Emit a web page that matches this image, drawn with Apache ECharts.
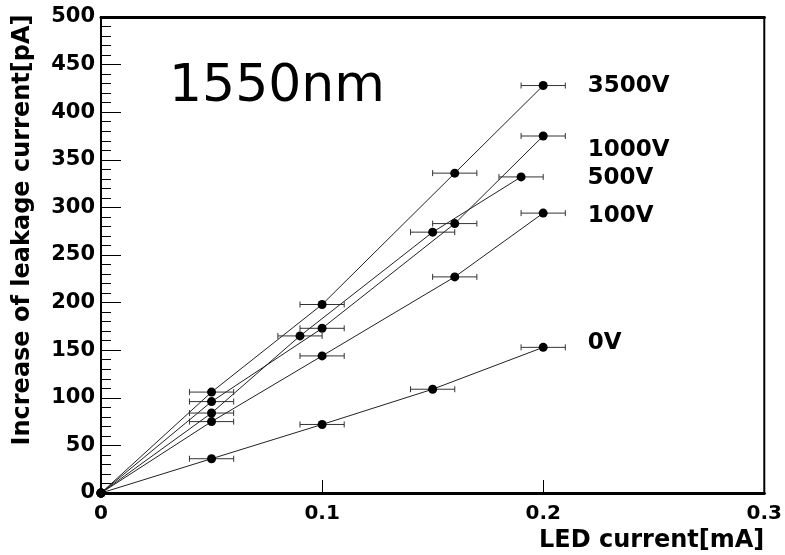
<!DOCTYPE html>
<html><head><meta charset="utf-8">
<script src="https://cdn.jsdelivr.net/npm/echarts@6/dist/echarts.min.js"></script>
<style>html,body{margin:0;padding:0;background:#fff}#c{width:785px;height:555px}</style>
</head><body><div id="c"></div>
<script>
// ---- data ----
const seriesNames = ['3500V', '1000V', '500V', '100V', '0V'];
const x3500 = [0, 0.05, 0.10, 0.16, 0.20];
const y3500 = [0, 106, 198, 336, 428];
const x1000 = [0, 0.05, 0.10, 0.16, 0.20];
const y1000 = [0, 96, 173, 283, 375];
const x500  = [0, 0.05, 0.09, 0.15, 0.19];
const y500  = [0, 84, 165, 274, 332];
const x100  = [0, 0.05, 0.10, 0.16, 0.20];
const y100  = [0, 75, 144, 227, 294];
const x0    = [0, 0.05, 0.10, 0.15, 0.20];
const y0    = [0, 36, 72, 109, 153];
const xError = 0.01;           // horizontal error bar half-width [mA]
const annotation = '1550nm';
const xTitle = 'LED current[mA]';
const yTitle = 'Increase of leakage current[pA]';

// ---- style ----
const FONT = 'DejaVu Sans';
const labelOffsets = [[35, 0], [35, 14], [57, 1], [35, 3], [35, -4]];
const xsAll = [x3500, x1000, x500, x100, x0];
const ysAll = [y3500, y1000, y500, y100, y0];

const series = [];
seriesNames.forEach((name, i) => {
  const xs = xsAll[i], ys = ysAll[i];
  const errData = [];
  xs.forEach((x, j) => { if (x > 0) errData.push([x, ys[j], xError]); });
  series.push({
    type: 'custom', name: name + ' err', z: 1, silent: true,
    data: errData,
    renderItem: function (params, api) {
      const x = api.value(0), y = api.value(1), e = api.value(2);
      const p1 = api.coord([x - e, y]), p2 = api.coord([x + e, y]);
      const st = { stroke: '#333', lineWidth: 1 };
      return { type: 'group', children: [
        { type: 'line', shape: { x1: p1[0], y1: p1[1], x2: p2[0], y2: p2[1] }, style: st },
        { type: 'line', shape: { x1: p1[0], y1: p1[1] - 3, x2: p1[0], y2: p1[1] + 3 }, style: st },
        { type: 'line', shape: { x1: p2[0], y1: p2[1] - 3, x2: p2[0], y2: p2[1] + 3 }, style: st }
      ]};
    }
  });
  const data = xs.map((x, j) => {
    const item = { value: [x, ys[j]] };
    if (j === xs.length - 1) {
      item.label = { show: true, position: 'right', offset: labelOffsets[i],
        formatter: name, fontFamily: FONT, fontWeight: 'bold', fontSize: 23, color: '#000' };
    }
    return item;
  });
  series.push({
    type: 'line', name: name, z: 3, data: data,
    symbol: 'circle', symbolSize: 9,
    itemStyle: { color: '#000' },
    lineStyle: { color: '#222', width: 1 },
    animation: false
  });
});

const chart = echarts.init(document.getElementById('c'));
chart.setOption({
  animation: false,
  backgroundColor: '#fff',
  title: { text: annotation, left: 164, top: 56,
    textStyle: { fontFamily: FONT, fontWeight: 'normal', fontSize: 52, color: '#000' } },
  grid: { left: 101, right: 19, top: 17, bottom: 62, show: true, borderColor: '#000', borderWidth: 2 },
  xAxis: [{
    type: 'value', min: 0, max: 0.3, interval: 0.1,
    name: xTitle, nameLocation: 'end', nameGap: 0,
    nameTextStyle: { fontFamily: FONT, fontWeight: 'bold', fontSize: 24, color: '#000',
      align: 'right', verticalAlign: 'top', padding: [36, 0, 0, 0] },
    axisLine: { lineStyle: { color: '#000', width: 3 } },
    axisTick: { inside: true, length: 13, lineStyle: { color: '#000' } },
    axisLabel: { fontFamily: FONT, fontWeight: 'bold', fontSize: 20, color: '#000', margin: 11 },
    splitLine: { show: false }
  }, {
    type: 'value', position: 'top', min: 0, max: 0.3, interval: 0.1,
    axisLine: { lineStyle: { color: '#000', width: 3 } },
    axisTick: { show: false }, axisLabel: { show: false }, splitLine: { show: false }
  }],
  yAxis: {
    type: 'value', min: 0, max: 500, interval: 50,
    name: yTitle, nameLocation: 'middle', nameGap: 66, nameRotate: 90,
    nameTextStyle: { fontFamily: FONT, fontWeight: 'bold', fontSize: 24, color: '#000',
      padding: [0, 0, 0, 50] },
    axisLine: { lineStyle: { color: '#000', width: 2 } },
    axisTick: { inside: true, length: 20, lineStyle: { color: '#000' } },
    minorTick: { show: true, splitNumber: 5, length: 10, lineStyle: { color: '#000' } },
    axisLabel: { fontFamily: FONT, fontWeight: 'bold', fontSize: 21, color: '#000', margin: 6 },
    splitLine: { show: false }
  },
  series: series
});
</script>
</body></html>
